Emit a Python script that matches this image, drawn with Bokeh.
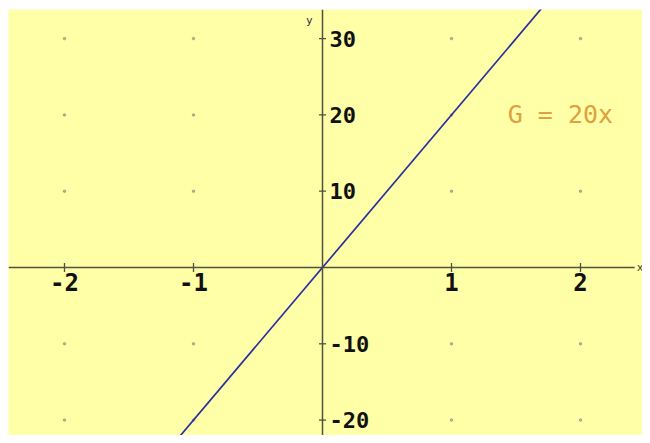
from bokeh.plotting import figure
from bokeh.models import Span
from bokeh.core.properties import value
from bokeh.embed import file_html
from bokeh.resources import INLINE

# data
x_ticks = [-2, -1, 1, 2]
x_tick_labels = ["-2", "-1", "1", "2"]
y_ticks = [-20, -10, 10, 20, 30]
y_tick_labels = ["-20", "-10", "10", "20", "30"]
line_x = [-1.25, 1.75]
line_y = [-25, 35]
label_text = "G = 20x"
label_x = 1.42
label_y = 20

W, H = 642, 435
BL, BT = 8, 9
px_x = 129.0
px_y = 7.63
x0 = -(322 - BL) / px_x
x1 = x0 + (W - BL) / px_x
y1 = (267 - BT) / px_y
y0 = y1 - (H - BT) / px_y
x_axis_end = 2.42

p = figure(width=W, height=H, x_range=(x0, x1), y_range=(y0, y1),
           output_backend="svg", toolbar_location=None,
           min_border_left=BL, min_border_top=BT, min_border_right=0, min_border_bottom=0)
p.axis.visible = False
p.grid.visible = False
p.outline_line_color = None
p.background_fill_color = "#FFFFA8"
p.border_fill_color = "white"

# grid dots
gx = [x for x in x_ticks for _ in y_ticks]
gy = [y for _ in x_ticks for y in y_ticks]
p.scatter(gx, gy, size=2.5, color="#8a8a70", alpha=0.6)

axis_color = "#50503c"
# y axis
p.add_layout(Span(location=0, dimension="height", line_color=axis_color, line_width=1.5))
# x axis
p.line([x0, x_axis_end], [0, 0], line_color=axis_color, line_width=1.5)

# ticks
p.scatter(x_ticks, [0] * len(x_ticks), marker="dash", angle=1.5708, size=9,
          line_color=axis_color, line_width=1.3)
p.scatter([0] * len(y_ticks), y_ticks, marker="dash", size=7,
          line_color=axis_color, line_width=1.3)

# tick labels
p.text(x_ticks, [0] * len(x_ticks), text=x_tick_labels, text_align="center",
       text_baseline="top", y_offset=5, text_font=value("DejaVu Sans Mono"),
       text_font_style="bold", text_font_size="24px", text_color="#111111")
p.text([0] * len(y_ticks), y_ticks, text=y_tick_labels, text_align="left",
       text_baseline="middle", x_offset=7, text_font=value("DejaVu Sans Mono"),
       text_font_style="bold", text_font_size="22px", text_color="#111111")

# axis names
p.text([0], [y1], text=["y"], text_align="right", text_baseline="top",
       x_offset=-10, y_offset=4, text_font=value("DejaVu Sans Mono"),
       text_font_size="11px", text_color="#333333")
p.text([x_axis_end], [0], text=["x"], text_align="left", text_baseline="middle",
       x_offset=2, text_font=value("DejaVu Sans Mono"),
       text_font_size="11px", text_color="#333333")

# function line
p.line(line_x, line_y, line_color="#2830a0", line_width=1.7)

# label
p.text([label_x], [label_y], text=[label_text], text_align="left",
       text_baseline="middle", text_font=value("DejaVu Sans Mono"),
       text_font_size="25px", text_color="#E0A040",
       background_fill_color="#FFFFA8", padding=2)

open("out.html", "w").write(file_html(p, INLINE))
